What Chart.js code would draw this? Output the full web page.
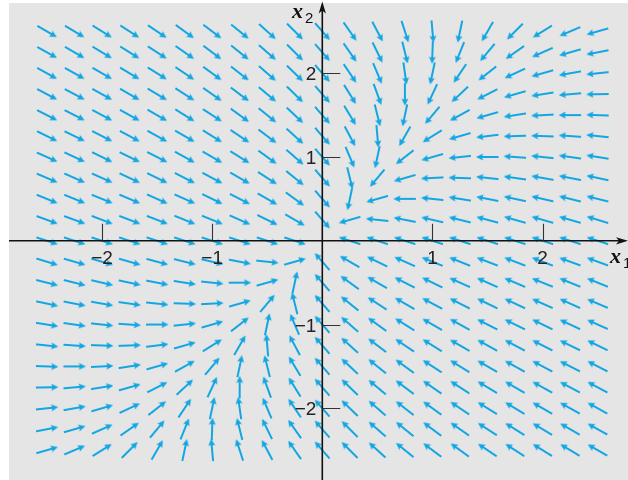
<!DOCTYPE html>
<html>
<head>
<meta charset="utf-8">
<script src="https://cdn.jsdelivr.net/npm/chart.js@4"></script>
<style>
    html, body { margin: 0; padding: 0; background: #fff; }
    #lienzo { display: block; }
</style>
</head>
<body>
<canvas id="lienzo" width="628" height="480"></canvas>
<script>
// malla del campo: columnas (x1) y filas (x2), de arriba a abajo
const columnasX = [-2.5, -2.25, -2, -1.75, -1.5, -1.25, -1, -0.75, -0.5, -0.25, 0,
    0.25, 0.5, 0.75, 1, 1.25, 1.5, 1.75, 2, 2.25, 2.5];
const filasY = [2.5, 2.25, 2, 1.75, 1.5, 1.25, 1, 0.75, 0.5, 0.25, 0,
    -0.25, -0.5, -0.75, -1, -1.25, -1.5, -1.75, -2, -2.25, -2.5];

// direccion de cada flecha (grados, antihorario, tal como se ve en la figura)
const fila250 = [-30, -31, -32, -33, -34, -36, -37, -39, -42, -45, -49, -55, -62, -72, -85, -102, -120, -135, -148, -157, -164];
const fila225 = [-29, -30, -31, -32, -33, -35, -37, -39, -41, -45, -49, -55, -64, -76, -92, -112, -130, -145, -156, -164, -169];
const fila200 = [-29, -29, -30, -31, -32, -34, -36, -38, -41, -44, -49, -56, -67, -82, -102, -124, -142, -155, -164, -170, -174];
const fila175 = [-28, -28, -29, -30, -31, -33, -35, -37, -40, -44, -49, -58, -70, -90, -115, -137, -153, -164, -171, -175, -179];
const fila150 = [-27, -27, -28, -29, -30, -32, -33, -36, -39, -43, -49, -59, -76, -102, -130, -151, -164, -171, -177, 180, 178];
const fila125 = [-26, -26, -27, -28, -29, -30, -32, -34, -37, -42, -49, -62, -85, -120, -148, -164, -173, -178, 178, 176, 174];
const fila100 = [-24, -25, -26, -26, -27, -29, -30, -32, -36, -41, -49, -67, -102, -142, -164, -174, 180, 176, 174, 172, 171];
const fila075 = [-23, -24, -24, -25, -26, -27, -28, -30, -33, -39, -49, -76, -130, -164, -177, 178, 174, 172, 170, 169, 168];
const fila050 = [-22, -22, -22, -23, -24, -24, -26, -27, -30, -36, -49, -102, -164, 180, 174, 171, 169, 168, 167, 166, 166];
const fila025 = [-20, -20, -21, -21, -21, -22, -22, -24, -26, -30, -49, -164, 174, 169, 167, 166, 165, 164, 164, 164, 163];
const fila000 = [-18, -18, -18, -18, -18, -18, -18, -18, -18, -18, null, 162, 162, 162, 162, 162, 162, 162, 162, 162, 162];
const filaM025 = [-17, -16, -16, -16, -15, -14, -13, -11, -6, 16, 131, 150, 154, 156, 158, 158, 159, 159, 159, 160, 160];
const filaM050 = [-14, -14, -13, -12, -11, -9, -6, 0, 16, 78, 131, 144, 150, 153, 154, 156, 156, 157, 158, 158, 158];
const filaM075 = [-12, -11, -10, -8, -6, -2, 3, 16, 50, 104, 131, 141, 147, 150, 152, 153, 154, 155, 156, 156, 157];
const filaM100 = [-9, -8, -6, -4, 0, 6, 16, 38, 78, 113, 131, 139, 144, 148, 150, 151, 153, 154, 154, 155, 156];
const filaM125 = [-6, -4, -2, 2, 7, 16, 32, 60, 95, 118, 131, 138, 143, 146, 148, 150, 151, 152, 153, 154, 154];
const filaM150 = [-2, 0, 3, 9, 16, 29, 50, 78, 104, 121, 131, 137, 141, 144, 147, 148, 150, 151, 152, 153, 153];
const filaM175 = [1, 5, 9, 16, 27, 43, 65, 90, 110, 122, 131, 136, 140, 143, 145, 147, 149, 150, 151, 152, 152];
const filaM200 = [6, 10, 16, 25, 38, 56, 78, 98, 113, 124, 131, 136, 139, 142, 144, 146, 148, 149, 150, 151, 151];
const filaM225 = [11, 16, 24, 35, 50, 68, 88, 104, 116, 125, 131, 135, 139, 141, 143, 145, 147, 148, 149, 150, 151];
const filaM250 = [16, 23, 32, 45, 60, 78, 95, 108, 118, 125, 131, 135, 138, 141, 143, 144, 146, 147, 148, 149, 150];

const angulosPorFila = [fila250, fila225, fila200, fila175, fila150, fila125, fila100, fila075, fila050, fila025,
    fila000, filaM025, filaM050, filaM075, filaM100, filaM125, filaM150, filaM175, filaM200, filaM225, filaM250];

const ticksX = [-2, -1, 1, 2];
const ticksY = [-2, -1, 1, 2];

const COLOR_FLECHA = "#12a6e2";
const COLOR_FONDO = "#e5e5e5";
const COLOR_EJE = "#111";

function etiqueta(v) {
    return (v < 0 ? "\u2212" : "") + Math.abs(v);
}

function crearFlecha() {
    const c = document.createElement("canvas");
    c.width = 28;
    c.height = 28;
    const g = c.getContext("2d");
    g.strokeStyle = COLOR_FLECHA;
    g.fillStyle = COLOR_FLECHA;
    g.lineWidth = 2;
    g.beginPath();
    g.moveTo(3, 14);
    g.lineTo(20, 14);
    g.stroke();
    g.beginPath();
    g.moveTo(25.5, 14);
    g.lineTo(18.3, 10.6);
    g.lineTo(19.8, 14);
    g.lineTo(18.3, 17.4);
    g.closePath();
    g.fill();
    return c;
}

const puntos = [];
filasY.forEach((y, f) => {
    columnasX.forEach((x, c) => {
        const a = angulosPorFila[f][c];
        if (a !== null) puntos.push({ x: x, y: y, a: a });
    });
});

function puntaEje(ctx, x, y, dx, dy) {
    // punta de flecha de los ejes, (dx, dy) es la direccion unitaria
    const largo = 12, ancho = 3.6;
    const bx = x - dx * largo, by = y - dy * largo;
    const mx = x - dx * largo * 0.75, my = y - dy * largo * 0.75;
    ctx.beginPath();
    ctx.moveTo(x, y);
    ctx.lineTo(bx - dy * ancho, by + dx * ancho);
    ctx.lineTo(mx, my);
    ctx.lineTo(bx + dy * ancho, by - dx * ancho);
    ctx.closePath();
    ctx.fill();
}

const fondoYEjes = {
    id: "fondoYEjes",
    beforeDatasetsDraw(chart) {
        const { ctx, chartArea: a } = chart;
        ctx.save();
        ctx.fillStyle = COLOR_FONDO;
        ctx.fillRect(a.left, a.top, a.right - a.left, a.bottom - a.top);
        ctx.restore();
    },
    afterDatasetsDraw(chart) {
        const { ctx, chartArea: a, scales } = chart;
        const x0 = scales.x.getPixelForValue(0);
        const y0 = scales.y.getPixelForValue(0);
        ctx.save();
        ctx.strokeStyle = COLOR_EJE;
        ctx.fillStyle = COLOR_EJE;
        ctx.lineWidth = 1.6;

        ctx.beginPath();
        ctx.moveTo(a.left, y0);
        ctx.lineTo(a.right - 6, y0);
        ctx.moveTo(x0, a.bottom);
        ctx.lineTo(x0, a.top + 4);
        ctx.stroke();
        puntaEje(ctx, a.right, y0, 1, 0);
        puntaEje(ctx, x0, 1.5, 0, -1);

        ctx.lineWidth = 1.1;
        ctx.strokeStyle = "#333";
        ctx.beginPath();
        ticksX.forEach((t) => {
            const px = Math.round(scales.x.getPixelForValue(t)) + 0.5;
            ctx.moveTo(px, y0);
            ctx.lineTo(px, y0 - 17);
        });
        ticksY.forEach((t) => {
            const py = Math.round(scales.y.getPixelForValue(t)) + 0.5;
            ctx.moveTo(x0, py);
            ctx.lineTo(x0 + 18, py);
        });
        ctx.stroke();

        ctx.fillStyle = "#222";
        ctx.font = "19px 'Liberation Sans', Arial, sans-serif";
        ctx.textAlign = "center";
        ctx.textBaseline = "alphabetic";
        ticksX.forEach((t) => {
            ctx.fillText(etiqueta(t), scales.x.getPixelForValue(t), y0 + 23);
        });
        ctx.textAlign = "right";
        ticksY.forEach((t) => {
            ctx.fillText(etiqueta(t), x0 - 6, scales.y.getPixelForValue(t) + 7);
        });

        ctx.fillStyle = "#111";
        ctx.textAlign = "left";
        ctx.font = "bold italic 22px 'Liberation Serif', 'Times New Roman', serif";
        ctx.fillText("x", 292, 18);
        ctx.fillText("x", 610, 263);
        ctx.font = "15px 'Liberation Sans', Arial, sans-serif";
        ctx.fillText("2", 305, 23);
        ctx.fillText("1", 623, 268);
        ctx.restore();
    },
};

const flecha = crearFlecha();

new Chart(document.getElementById("lienzo"), {
    type: "scatter",
    data: {
        datasets: [{
            data: puntos,
            pointStyle: flecha,
            pointRadius: 3,
            pointRotation: (c) => (c.raw ? -c.raw.a : 0),
            showLine: false,
            clip: false,
        }],
    },
    options: {
        responsive: false,
        devicePixelRatio: 1,
        animation: false,
        events: [],
        layout: { autoPadding: false, padding: { left: 9, top: 3, right: 0, bottom: 0 } },
        plugins: { legend: { display: false }, tooltip: { enabled: false } },
        scales: {
            x: { type: "linear", min: -2.844, max: 2.775, display: false },
            y: { type: "linear", min: -2.856, max: 2.839, display: false },
        },
    },
    plugins: [fondoYEjes],
});
</script>
</body>
</html>
